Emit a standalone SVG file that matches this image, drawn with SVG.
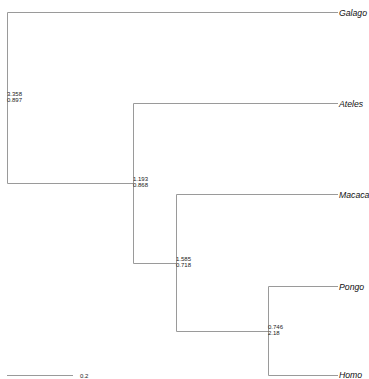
<svg xmlns="http://www.w3.org/2000/svg" width="369" height="379" viewBox="0 0 369 379">
<style>
.br{stroke:#9a9a9a;stroke-width:1;fill:none}
.tip{font-family:"Liberation Sans",Arial,sans-serif;font-style:italic;font-size:8.7px;fill:#111}
.num{font-family:"Liberation Sans",Arial,sans-serif;font-size:6px;fill:#222}
</style>
<rect width="369" height="379" fill="#fff"/>
<g id="connectors">
<path class="br" d="M7.5 12.5V183.5M7.5 12.5H338M7.5 183.5H133.5"/>
<path class="br" d="M133.5 103.5V263.5M133.5 103.5H338M133.5 263.5H176.5"/>
<path class="br" d="M176.5 194.5V331.5M176.5 194.5H338M176.5 331.5H268.5"/>
<path class="br" d="M268.5 286.5V375.5M268.5 286.5H338M268.5 375.5H338"/>
<path class="br" d="M7 375.5H73"/>
</g>
<g id="Galago"><text class="tip" x="339" y="15.5">Galago</text></g>
<g id="Ateles"><text class="tip" x="339" y="106.5">Ateles</text></g>
<g id="Macaca"><text class="tip" x="339" y="197.5">Macaca</text></g>
<g id="Pongo"><text class="tip" x="339" y="289.5">Pongo</text></g>
<g id="Homo"><text class="tip" x="339" y="378">Homo</text></g>
<g id="n1"><text class="num" x="7" y="96">3.358</text><text class="num" x="7" y="101.5">0.897</text></g>
<g id="n2"><text class="num" x="133" y="180.5">1.193</text><text class="num" x="133" y="186.7">0.868</text></g>
<g id="n3"><text class="num" x="176" y="261">1.585</text><text class="num" x="176" y="267">0.718</text></g>
<g id="n4"><text class="num" x="268" y="329">0.746</text><text class="num" x="268" y="335">2.18</text></g>
<g id="scale"><text class="num" x="80" y="377.5">0.2</text></g>
</svg>
